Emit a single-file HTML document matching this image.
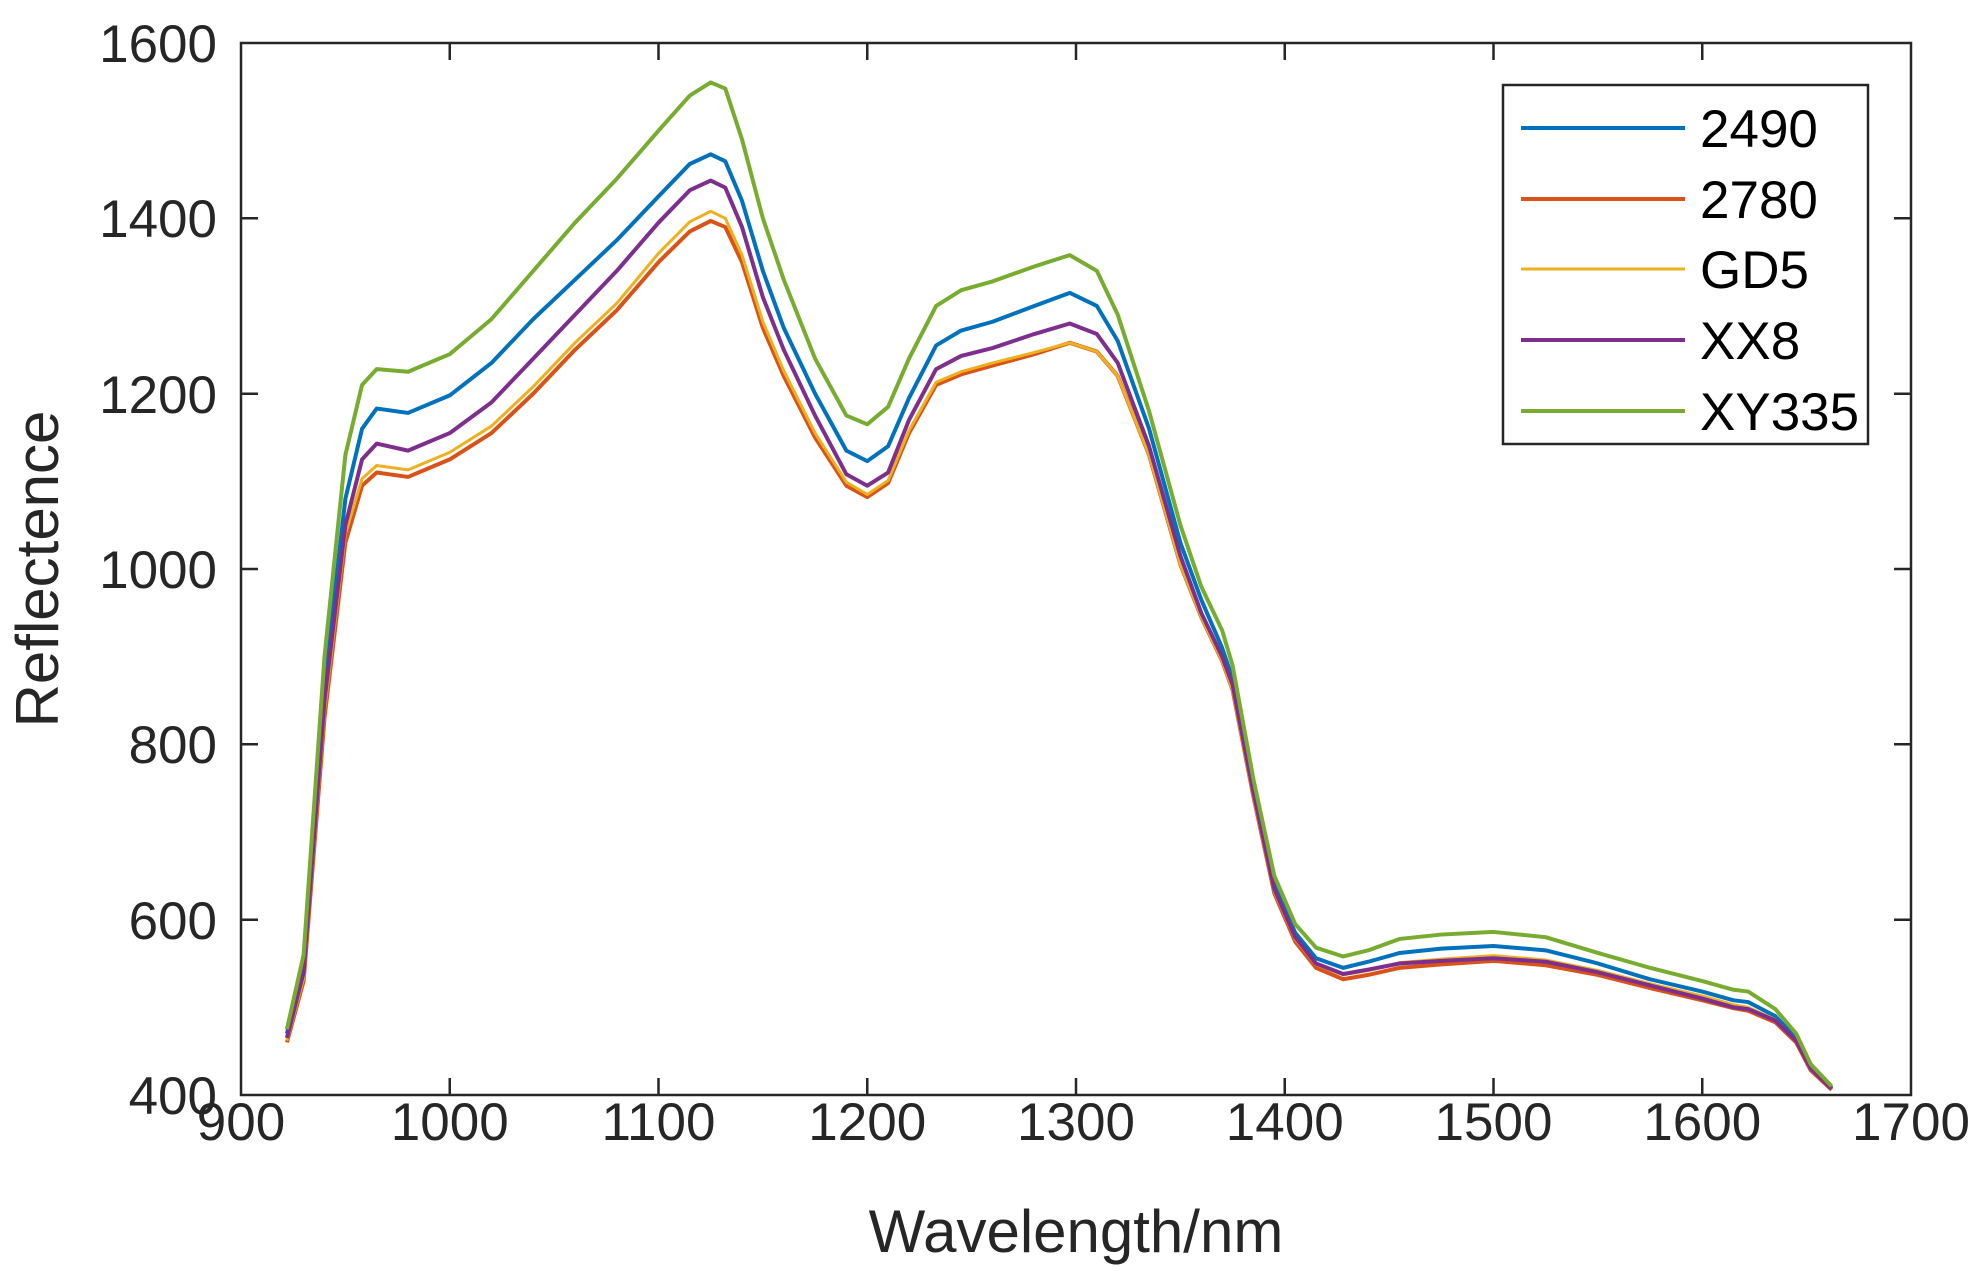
<!DOCTYPE html>
<html><head><meta charset="utf-8"><style>
html,body{margin:0;padding:0;background:#fff;}
svg{display:block;font-family:"Liberation Sans",Arial,sans-serif;}
</style></head><body>
<svg width="1982" height="1271" viewBox="0 0 1982 1271" xmlns="http://www.w3.org/2000/svg">
<rect width="1982" height="1271" fill="#fff"/>
<g fill="none" stroke-linejoin="round">
<g transform="matrix(2.0875 0 0 -0.8767 -1637.75 1445.68)">
<polyline vector-effect="non-scaling-stroke" stroke="#0072BD" stroke-width="4" points="922,470 930,550 940,870 950,1080 958,1160 965,1183 980,1178 1000,1198 1020,1235 1040,1285 1060,1330 1080,1375 1100,1425 1115,1462 1125,1473 1132,1465 1140,1420 1150,1340 1160,1275 1175,1200 1190,1135 1200,1123 1210,1140 1220,1195 1233,1255 1245,1272 1260,1282 1280,1300 1297,1315 1310,1300 1320,1260 1335,1160 1350,1030 1360,965 1370,910 1375,875 1385,750 1395,640 1405,585 1415,556 1428,545 1440,552 1455,562 1475,567 1500,570 1525,565 1550,550 1575,532 1600,518 1615,508 1622,506 1635,490 1645,465 1652,432 1662,408"/>
<polyline vector-effect="non-scaling-stroke" stroke="#D95319" stroke-width="4" points="922,460 930,530 940,830 950,1030 958,1095 965,1110 980,1105 1000,1125 1020,1155 1040,1200 1060,1250 1080,1295 1100,1350 1115,1385 1125,1397 1132,1390 1140,1350 1150,1275 1160,1220 1175,1150 1190,1095 1200,1082 1210,1098 1220,1155 1233,1210 1245,1222 1260,1232 1280,1245 1297,1258 1310,1248 1320,1220 1335,1130 1350,1005 1360,945 1370,895 1375,862 1385,740 1395,630 1405,575 1415,545 1428,532 1440,537 1455,545 1475,549 1500,553 1525,548 1550,537 1575,522 1600,508 1615,499 1622,496 1635,483 1645,460 1652,428 1662,406"/>
<polyline vector-effect="non-scaling-stroke" stroke="#EDB120" stroke-width="3" points="922,462 930,533 940,838 950,1040 958,1103 965,1118 980,1113 1000,1133 1020,1163 1040,1208 1060,1258 1080,1303 1100,1360 1115,1396 1125,1408 1132,1400 1140,1358 1150,1282 1160,1226 1175,1155 1190,1099 1200,1085 1210,1101 1220,1158 1233,1213 1245,1225 1260,1235 1280,1247 1297,1258 1310,1248 1320,1220 1335,1130 1350,1005 1360,945 1370,895 1375,862 1385,740 1395,632 1405,578 1415,549 1428,537 1440,542 1455,551 1475,555 1500,559 1525,554 1550,542 1575,527 1600,513 1615,503 1622,500 1635,486 1645,462 1652,429 1662,407"/>
<polyline vector-effect="non-scaling-stroke" stroke="#7E2F8E" stroke-width="4" points="922,465 930,540 940,850 950,1050 958,1125 965,1143 980,1135 1000,1155 1020,1190 1040,1240 1060,1290 1080,1340 1100,1395 1115,1432 1125,1443 1132,1435 1140,1390 1150,1310 1160,1250 1175,1175 1190,1108 1200,1095 1210,1110 1220,1170 1233,1228 1245,1243 1260,1252 1280,1268 1297,1280 1310,1268 1320,1235 1335,1140 1350,1015 1360,950 1370,900 1375,868 1385,745 1395,635 1405,580 1415,550 1428,538 1440,543 1455,550 1475,553 1500,556 1525,552 1550,540 1575,525 1600,510 1615,500 1622,498 1635,485 1645,462 1652,430 1662,407"/>
<polyline vector-effect="non-scaling-stroke" stroke="#77AC30" stroke-width="4" points="922,475 930,560 940,900 950,1130 958,1210 965,1228 980,1225 1000,1245 1020,1285 1040,1340 1060,1395 1080,1445 1100,1500 1115,1540 1125,1555 1132,1548 1140,1490 1150,1400 1160,1330 1175,1240 1190,1175 1200,1165 1210,1185 1220,1240 1233,1300 1245,1318 1260,1328 1280,1345 1297,1358 1310,1340 1320,1290 1335,1180 1350,1050 1360,980 1370,930 1375,890 1385,760 1395,650 1405,595 1415,568 1428,558 1440,565 1455,578 1475,583 1500,586 1525,580 1550,562 1575,545 1600,530 1615,520 1622,518 1635,498 1645,470 1652,435 1662,410"/>
</g>
</g>
<rect x="241" y="43" width="1670" height="1052" fill="none" stroke="#262626" stroke-width="2.5"/>
<g stroke="#262626" stroke-width="2.5">
<line x1="449.75" y1="1095" x2="449.75" y2="1078"/><line x1="449.75" y1="43" x2="449.75" y2="60"/>
<line x1="658.5" y1="1095" x2="658.5" y2="1078"/><line x1="658.5" y1="43" x2="658.5" y2="60"/>
<line x1="867.25" y1="1095" x2="867.25" y2="1078"/><line x1="867.25" y1="43" x2="867.25" y2="60"/>
<line x1="1076" y1="1095" x2="1076" y2="1078"/><line x1="1076" y1="43" x2="1076" y2="60"/>
<line x1="1284.75" y1="1095" x2="1284.75" y2="1078"/><line x1="1284.75" y1="43" x2="1284.75" y2="60"/>
<line x1="1493.5" y1="1095" x2="1493.5" y2="1078"/><line x1="1493.5" y1="43" x2="1493.5" y2="60"/>
<line x1="1702.25" y1="1095" x2="1702.25" y2="1078"/><line x1="1702.25" y1="43" x2="1702.25" y2="60"/>
<line x1="241" y1="919.7" x2="258" y2="919.7"/><line x1="1911" y1="919.7" x2="1894" y2="919.7"/>
<line x1="241" y1="744.3" x2="258" y2="744.3"/><line x1="1911" y1="744.3" x2="1894" y2="744.3"/>
<line x1="241" y1="569" x2="258" y2="569"/><line x1="1911" y1="569" x2="1894" y2="569"/>
<line x1="241" y1="393.7" x2="258" y2="393.7"/><line x1="1911" y1="393.7" x2="1894" y2="393.7"/>
<line x1="241" y1="218.3" x2="258" y2="218.3"/><line x1="1911" y1="218.3" x2="1894" y2="218.3"/>
</g>
<g font-size="53" fill="#262626" text-anchor="middle">
<text x="241" y="1140">900</text>
<text x="449.75" y="1140">1000</text>
<text x="658.5" y="1140">1100</text>
<text x="867.25" y="1140">1200</text>
<text x="1076" y="1140">1300</text>
<text x="1284.75" y="1140">1400</text>
<text x="1493.5" y="1140">1500</text>
<text x="1702.25" y="1140">1600</text>
<text x="1911" y="1140">1700</text>
</g>
<g font-size="53" fill="#262626" text-anchor="end">
<text x="217" y="1114">400</text>
<text x="217" y="939">600</text>
<text x="217" y="763">800</text>
<text x="217" y="588">1000</text>
<text x="217" y="413">1200</text>
<text x="217" y="237">1400</text>
<text x="217" y="62">1600</text>
</g>
<text x="1076" y="1252" font-size="60" fill="#262626" text-anchor="middle">Wavelength/nm</text>
<text transform="translate(58,569) rotate(-90)" font-size="60" fill="#262626" text-anchor="middle">Reflectence</text>
<rect x="1503" y="85" width="365" height="359" fill="#fff" stroke="#262626" stroke-width="2.5"/>
<g stroke-width="4">
<line x1="1521" y1="128" x2="1685" y2="128" stroke="#0072BD"/>
<line x1="1521" y1="199" x2="1685" y2="199" stroke="#D95319"/>
<line x1="1521" y1="269" x2="1685" y2="269" stroke="#EDB120" stroke-width="3"/>
<line x1="1521" y1="340" x2="1685" y2="340" stroke="#7E2F8E"/>
<line x1="1521" y1="411" x2="1685" y2="411" stroke="#77AC30"/>
</g>
<g font-size="53" fill="#000">
<text x="1700" y="147">2490</text>
<text x="1700" y="218">2780</text>
<text x="1700" y="288">GD5</text>
<text x="1700" y="359">XX8</text>
<text x="1700" y="430">XY335</text>
</g>
</svg>
</body></html>
